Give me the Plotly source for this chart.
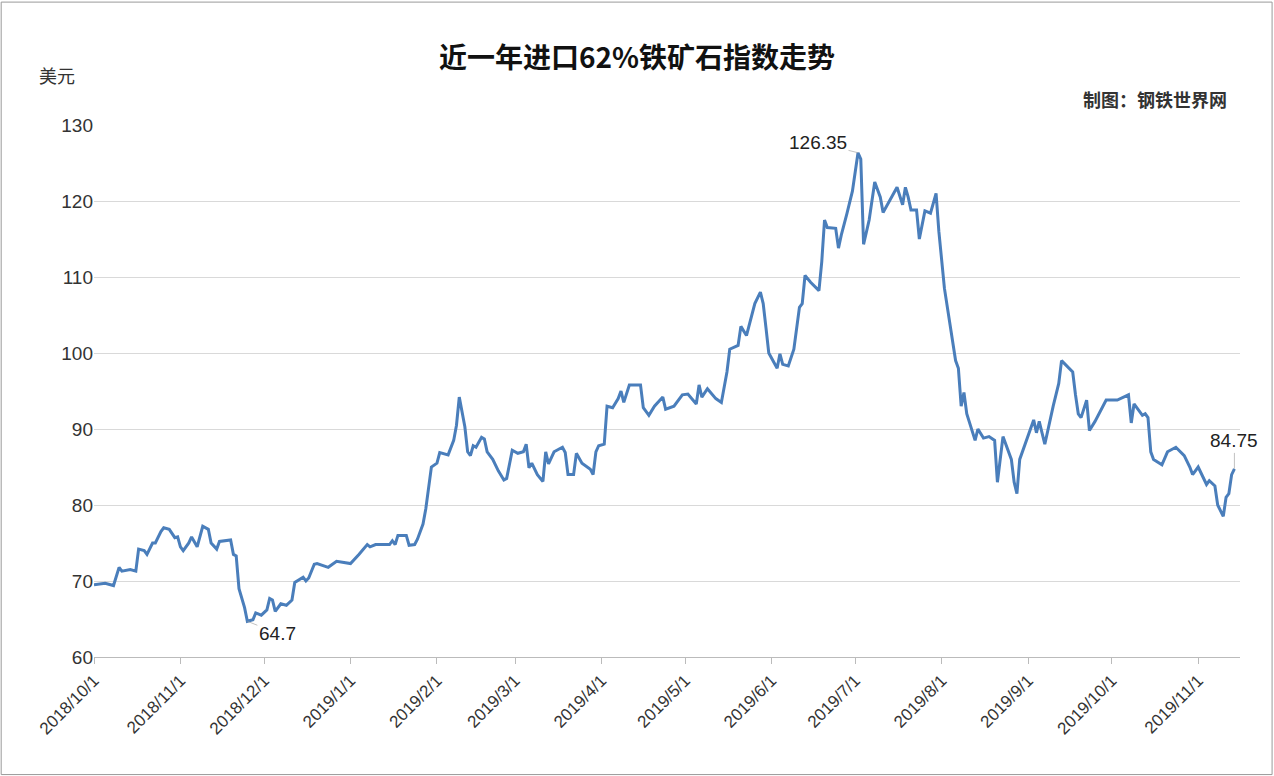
import plotly.graph_objects as go

dates = [
    "2018-10-01", "2018-10-05", "2018-10-08", "2018-10-10", "2018-10-11", "2018-10-14", "2018-10-16", "2018-10-17",
    "2018-10-19", "2018-10-20", "2018-10-22", "2018-10-23", "2018-10-25", "2018-10-26", "2018-10-28", "2018-10-30",
    "2018-10-31", "2018-11-01", "2018-11-02", "2018-11-04", "2018-11-05", "2018-11-07", "2018-11-09", "2018-11-11",
    "2018-11-12", "2018-11-14", "2018-11-15", "2018-11-19", "2018-11-20", "2018-11-21", "2018-11-22", "2018-11-24",
    "2018-11-25", "2018-11-27", "2018-11-28", "2018-11-30", "2018-12-02", "2018-12-03", "2018-12-04", "2018-12-05",
    "2018-12-07", "2018-12-09", "2018-12-11", "2018-12-12", "2018-12-15", "2018-12-16", "2018-12-17", "2018-12-19",
    "2018-12-20", "2018-12-24", "2018-12-27", "2019-01-01", "2019-01-04", "2019-01-07", "2019-01-08", "2019-01-10",
    "2019-01-15", "2019-01-16", "2019-01-17", "2019-01-18", "2019-01-21", "2019-01-22", "2019-01-24", "2019-01-25",
    "2019-01-27", "2019-01-28", "2019-01-30", "2019-02-01", "2019-02-02", "2019-02-05", "2019-02-07", "2019-02-08",
    "2019-02-09", "2019-02-10", "2019-02-11", "2019-02-12", "2019-02-13", "2019-02-14", "2019-02-15", "2019-02-17",
    "2019-02-18", "2019-02-19", "2019-02-21", "2019-02-23", "2019-02-25", "2019-02-26", "2019-02-28", "2019-03-02",
    "2019-03-04", "2019-03-05", "2019-03-06", "2019-03-07", "2019-03-09", "2019-03-11", "2019-03-12", "2019-03-13",
    "2019-03-15", "2019-03-18", "2019-03-19", "2019-03-20", "2019-03-22", "2019-03-23", "2019-03-25", "2019-03-28",
    "2019-03-29", "2019-03-30", "2019-03-31", "2019-04-02", "2019-04-03", "2019-04-05", "2019-04-07", "2019-04-08",
    "2019-04-09", "2019-04-11", "2019-04-15", "2019-04-16", "2019-04-18", "2019-04-20", "2019-04-23", "2019-04-24",
    "2019-04-27", "2019-04-30", "2019-05-02", "2019-05-05", "2019-05-06", "2019-05-07", "2019-05-09", "2019-05-12",
    "2019-05-14", "2019-05-16", "2019-05-17", "2019-05-20", "2019-05-21", "2019-05-23", "2019-05-26", "2019-05-28",
    "2019-05-29", "2019-05-30", "2019-05-31", "2019-06-03", "2019-06-04", "2019-06-05", "2019-06-07", "2019-06-09",
    "2019-06-11", "2019-06-12", "2019-06-13", "2019-06-15", "2019-06-18", "2019-06-19", "2019-06-20", "2019-06-21",
    "2019-06-24", "2019-06-25", "2019-06-26", "2019-06-28", "2019-06-30", "2019-07-02", "2019-07-03", "2019-07-04",
    "2019-07-06", "2019-07-08", "2019-07-10", "2019-07-11", "2019-07-16", "2019-07-18", "2019-07-19", "2019-07-20",
    "2019-07-21", "2019-07-23", "2019-07-24", "2019-07-26", "2019-07-28", "2019-07-30", "2019-07-31", "2019-08-02",
    "2019-08-05", "2019-08-06", "2019-08-07", "2019-08-08", "2019-08-09", "2019-08-10", "2019-08-13", "2019-08-14",
    "2019-08-16", "2019-08-18", "2019-08-20", "2019-08-21", "2019-08-23", "2019-08-24", "2019-08-26", "2019-08-27",
    "2019-08-28", "2019-08-29", "2019-09-02", "2019-09-03", "2019-09-04", "2019-09-05", "2019-09-06", "2019-09-07",
    "2019-09-10", "2019-09-12", "2019-09-13", "2019-09-15", "2019-09-17", "2019-09-18", "2019-09-19", "2019-09-20",
    "2019-09-22", "2019-09-23", "2019-09-25", "2019-09-29", "2019-10-03", "2019-10-07", "2019-10-08", "2019-10-09",
    "2019-10-12", "2019-10-13", "2019-10-14", "2019-10-15", "2019-10-16", "2019-10-19", "2019-10-21", "2019-10-24",
    "2019-10-27", "2019-10-29", "2019-10-30", "2019-11-01", "2019-11-04", "2019-11-05", "2019-11-07", "2019-11-08",
    "2019-11-10", "2019-11-11", "2019-11-12", "2019-11-13", "2019-11-14",
]
prices = [
    69.5, 69.7, 69.4, 71.8, 71.3, 71.5, 71.3, 74.2,
    74.0, 73.5, 75.0, 75.0, 76.5, 77.0, 76.8, 75.7,
    75.8, 74.5, 74.0, 75.0, 75.8, 74.5, 77.2, 76.8,
    75.0, 74.2, 75.2, 75.4, 73.5, 73.3, 69.0, 66.5,
    64.7, 64.9, 65.8, 65.5, 66.2, 67.7, 67.5, 66.0,
    67.0, 66.8, 67.5, 69.8, 70.5, 70.0, 70.4, 72.2,
    72.3, 71.8, 72.6, 72.3, 73.5, 74.8, 74.5, 74.8,
    74.8, 75.3, 74.8, 76.0, 76.0, 74.7, 74.8, 75.5,
    77.5, 79.5, 85.0, 85.5, 86.9, 86.6, 88.5, 90.5,
    94.2, 92.0, 90.3, 87.0, 86.5, 87.8, 87.6, 88.9,
    88.7, 87.0, 86.0, 84.5, 83.3, 83.5, 87.2, 86.8,
    87.0, 88.0, 84.9, 85.5, 84.0, 83.1, 87.0, 85.4,
    87.0, 87.6, 86.9, 84.0, 84.0, 86.8, 85.5, 84.7,
    84.0, 87.0, 87.8, 88.0, 93.0, 92.8, 94.0, 95.0,
    93.5, 95.8, 95.8, 92.8, 91.8, 93.0, 94.2, 92.6,
    93.0, 94.5, 94.6, 93.3, 95.8, 94.2, 95.3, 94.0,
    93.5, 97.5, 100.5, 101.0, 103.5, 102.3, 106.5, 108.0,
    106.5, 103.3, 100.0, 98.0, 99.9, 98.5, 98.3, 100.5,
    106.0, 106.5, 110.2, 109.3, 108.2, 112.0, 117.5, 116.5,
    116.4, 113.8, 115.5, 118.3, 121.3, 126.35, 125.5, 114.3,
    117.5, 122.5, 120.5, 118.5, 121.8, 119.5, 121.8, 120.5,
    118.8, 118.8, 115.0, 118.7, 118.4, 121.0, 116.0, 108.5,
    101.5, 99.0, 98.0, 93.0, 94.8, 92.0, 88.5, 90.0,
    88.8, 89.0, 88.5, 83.0, 89.0, 88.0, 86.0, 83.0,
    81.5, 86.0, 90.0, 91.2, 89.5, 91.0, 89.5, 88.0,
    93.0, 96.0, 99.0, 98.3, 97.5, 94.5, 92.0, 91.5,
    93.8, 89.8, 91.0, 93.8, 93.8, 94.5, 90.8, 93.3,
    91.8, 92.0, 91.5, 87.0, 86.0, 85.3, 87.0, 87.6,
    86.5, 85.0, 84.0, 85.0, 82.7, 83.2, 82.5, 80.0,
    78.5, 81.0, 81.5, 84.0, 84.75,
]
tick_dates = ["2018-10-01", "2018-11-01", "2018-12-01", "2019-01-01", "2019-02-01", "2019-03-01", "2019-04-01",
              "2019-05-01", "2019-06-01", "2019-07-01", "2019-08-01", "2019-09-01", "2019-10-01", "2019-11-01"]
tick_labels = ["2018/10/1", "2018/11/1", "2018/12/1", "2019/1/1", "2019/2/1", "2019/3/1", "2019/4/1",
               "2019/5/1", "2019/6/1", "2019/7/1", "2019/8/1", "2019/9/1", "2019/10/1", "2019/11/1"]

cjk = "Noto Sans CJK SC"
num = "Liberation Sans, Arial, sans-serif"
fig = go.Figure(go.Scatter(x=dates, y=prices, mode="lines",
                           line=dict(color="#4a7ebb", width=3)))

# labelled points: max, min, last
for i, ax, ay in [(prices.index(max(prices)), -40, -10),
                  (prices.index(min(prices)), 30, 12),
                  (len(prices) - 1, 0, -28)]:
    fig.add_annotation(x=dates[i], y=prices[i], text=str(prices[i]), showarrow=True,
                       arrowhead=0, arrowwidth=0.6, arrowcolor="#999", ax=ax, ay=ay,
                       font=dict(size=19, color="#222", family=num))

fig.update_layout(
    width=1274, height=776,
    paper_bgcolor="white", plot_bgcolor="white",
    margin=dict(l=94, r=34, t=125, b=119, autoexpand=False),
    showlegend=False,
    title=dict(text="<b>近一年进口62%铁矿石指数走势</b>", x=0.5, y=0.937, xanchor="center",
               font=dict(size=28, color="#111", family=cjk)),
    font=dict(family=num, color="#333", size=17),
    xaxis=dict(type="date", range=["2018-10-01", "2019-11-16"], tickvals=tick_dates, ticktext=tick_labels,
               tickangle=-45, showgrid=False, showline=True, linecolor="#bbb", ticks="outside",
               tickcolor="#bbb", ticklen=6, automargin=False, tickfont=dict(size=17, color="#333")),
    yaxis=dict(range=[60, 130], dtick=10, showgrid=True, gridcolor="#d9d9d9", zeroline=False,
               ticks="", automargin=False, tickfont=dict(size=19, color="#333")),
    shapes=[dict(type="rect", xref="paper", yref="paper", x0=-0.081, x1=1.028, y0=-0.221, y1=1.231,
                 line=dict(color="#999", width=1))],
)
fig.add_annotation(xref="paper", yref="paper", x=-0.05, y=1.122, text="美元", showarrow=False,
                   font=dict(size=18, color="#333", family=cjk))
fig.add_annotation(xref="paper", yref="paper", x=0.99, y=1.078, text="<b>制图：钢铁世界网</b>", xanchor="right",
                   showarrow=False, font=dict(size=18, color="#333", family=cjk))

fig.write_html("out.html", config={"displayModeBar": False},
               post_script="document.body.style.margin='0';")
